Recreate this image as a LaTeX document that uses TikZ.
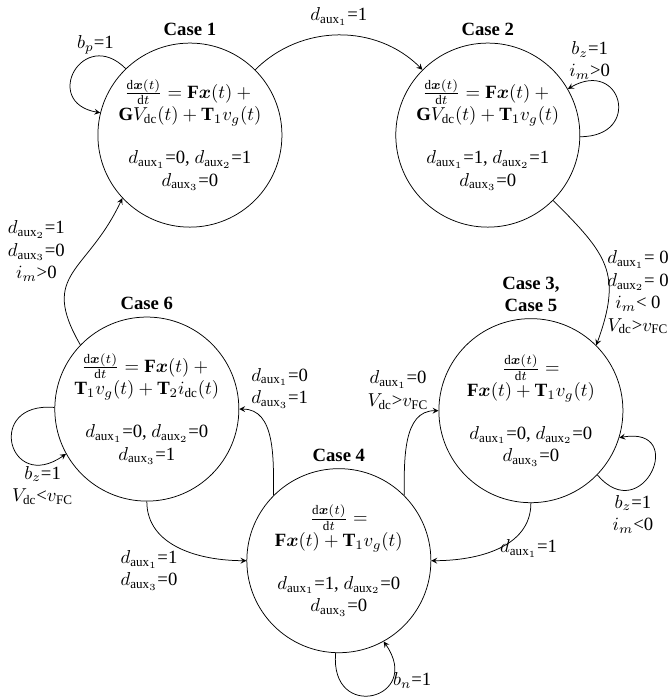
\documentclass[tikz,border=0pt]{standalone}
\usepackage{amsmath}
\usepackage{fontspec}
\setmainfont{Liberation Serif}
\usepackage{tkz-euclide}

\newcommand{\daux}[1]{$d_{\mathrm{aux}_{#1}}$}
\newcommand{\dxdt}{\frac{\mathrm{d}\boldsymbol{x}(t)}{\mathrm{d}t}}

\tikzset{
  casestate/.style={circle,draw,minimum size=3.46cm,inner sep=0pt,align=center},
  casetitle/.style={font=\bfseries,align=center},
  trans/.style={-stealth},
  cond/.style={align=center,inner sep=1pt}
}

\begin{document}
\begin{tikzpicture}
\useasboundingbox (0,0) rectangle (12.58,13.14);
%\draw[help lines] (0,0) grid (12,13);

\tkzDefPoint(3.57,10.6){A}
\tkzDefPoint(9.17,10.6){B}
\tkzDefPoint(9.98,5.42){C}
\tkzDefPoint(6.37,2.6){D}
\tkzDefPoint(2.76,5.45){E}

\node[casestate,label={[casetitle]above:Case 1}] (case1) at (A)
  {$\dxdt = \mathbf{F}\boldsymbol{x}(t) +{}$\\
   $\mathbf{G}V_{\mathrm{dc}}(t) + \mathbf{T}_1v_g(t)$\\[11pt]
   \daux{1}=0, \daux{2}=1\\ \daux{3}=0};
\node[casestate,label={[casetitle]above:Case 2}] (case2) at (B)
  {$\dxdt = \mathbf{F}\boldsymbol{x}(t) +{}$\\
   $\mathbf{G}V_{\mathrm{dc}}(t) + \mathbf{T}_1v_g(t)$\\[11pt]
   \daux{1}=1, \daux{2}=1\\ \daux{3}=0};
\node[casestate,label={[casetitle]above:Case 3,\\Case 5}] (case3) at (C)
  {$\dxdt =$\\
   $\mathbf{F}\boldsymbol{x}(t) + \mathbf{T}_1v_g(t)$\\[11pt]
   \daux{1}=0, \daux{2}=0\\ \daux{3}=0};
\node[casestate,label={[casetitle]above:Case 4}] (case4) at (D)
  {$\dxdt =$\\
   $\mathbf{F}\boldsymbol{x}(t) + \mathbf{T}_1v_g(t)$\\[11pt]
   \daux{1}=1, \daux{2}=0\\ \daux{3}=0};
\node[casestate,label={[casetitle]above:Case 6}] (case6) at (E)
  {$\dxdt = \mathbf{F}\boldsymbol{x}(t) +{}$\\
   $\mathbf{T}_1v_g(t) + \mathbf{T}_2i_{\mathrm{dc}}(t)$\\[11pt]
   \daux{1}=0, \daux{2}=0\\ \daux{3}=1};

% transitions
\draw[trans] (case1) to[bend left=45] node[cond,above=4pt]{\daux{1}=1} (case2);
\draw[trans] (case2.-45) to[out=-45,in=70,looseness=1.3]
  node[cond,pos=0.7,right,inner sep=0pt,xshift=-1pt]{\daux{1}= 0\\\daux{2}= 0\\$i_m$< 0\\$V_{\mathrm{dc}}$>$v_{\mathrm{FC}}$} (case3.45);
\draw[trans] (case3.-90) to[out=-90,in=0] node[cond,pos=0.5,right]{\daux{1}=1} (case4.0);
\draw[trans] (case4.45) to[out=90,in=180]
  node[cond,pos=0.92,above left]{\daux{1}=0\\$V_{\mathrm{dc}}$>$v_{\mathrm{FC}}$} (case3.180);
\draw[trans] (case4.135) to[out=90,in=0]
  node[cond,pos=0.9,above right]{\daux{1}=0\\\daux{3}=1} (case6.0);
\draw[trans] (case6.-90) to[out=-90,in=180]
  node[cond,pos=0.5,below left]{\daux{1}=1\\\daux{3}=0} (case4.180);
\draw[trans] (case6.136) to[out=120,in=245,looseness=1.4]
  node[cond,pos=0.4,above left]{\daux{2}=1\\\daux{3}=0\\$i_m$>0} (case1.223);

% self loops
\draw[trans] (case1.134) to[out=135,in=170,distance=1.13cm] node[cond,pos=0.25,above]{$b_p$=1} (case1.166);
\draw[trans] (case2.-1) to[out=0,in=30,distance=1.17cm] node[cond,pos=0.85,above]{$b_z$=1\\$i_m$>0} (case2.30);
\draw[trans] (case3.-44) to[out=-50,in=10,distance=1.32cm] node[cond,pos=0.28,below=2pt]{$b_z$=1\\$i_m$<0} (case3.-17);
\draw[trans] (case4.-92) to[out=-95,in=-55,distance=1.32cm] node[cond,pos=0.72,right]{$b_n$=1} (case4.-61);
\draw[trans] (case6.179) to[out=175,in=215,distance=1.32cm]
  node[cond,pos=0.85,below]{$b_z$=1\\$V_{\mathrm{dc}}$<$v_{\mathrm{FC}}$} (case6.209);

\end{tikzpicture}
\end{document}
